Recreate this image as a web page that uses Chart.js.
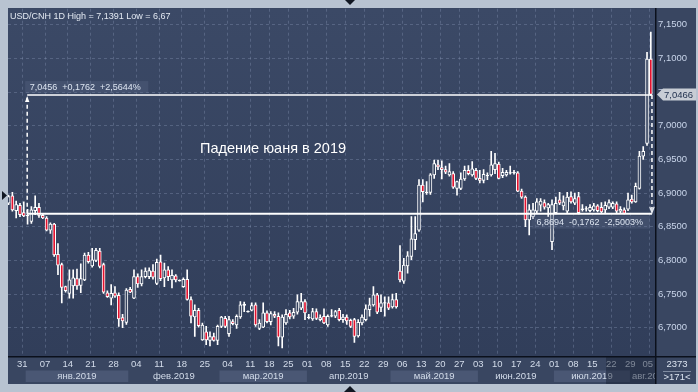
<!DOCTYPE html>
<html>
<head>
<meta charset="utf-8">
<script src="https://cdn.jsdelivr.net/npm/chart.js@4.4.1/dist/chart.umd.min.js"></script>
<style>
html,body{margin:0;padding:0;background:#b8c3d1;}
canvas{display:block;}
</style>
</head>
<body>
<canvas id="chart" width="698" height="392"></canvas>
<script>
// USD/CNH daily candles, late Dec 2018 - 06 Aug 2019
const opens=[6.885,6.896,6.874,6.882,6.871,6.867,6.858,6.874,6.879,6.867,
6.863,6.845,6.854,6.809,6.794,6.761,6.751,6.762,6.773,6.763,
6.771,6.808,6.792,6.800,6.814,6.794,6.752,6.744,6.752,6.748,
6.715,6.708,6.757,6.744,6.776,6.765,6.776,6.776,6.784,6.766,
6.798,6.774,6.786,6.771,6.777,6.7705,6.761,6.772,6.742,6.716,
6.726,6.682,6.694,6.681,6.687,6.681,6.702,6.714,6.691,6.709,
6.704,6.716,6.733,6.7245,6.726,6.734,6.699,6.701,6.722,6.709,
6.720,6.717,6.686,6.707,6.722,6.717,6.723,6.729,6.739,6.716,
6.713,6.724,6.712,6.717,6.704,6.718,6.717,6.726,6.712,6.716,
6.711,6.712,6.688,6.707,6.712,6.727,6.734,6.749,6.730,6.7365,
6.737,6.731,6.742,6.784,6.769,6.792,6.806,6.831,6.845,6.912,
6.9015,6.901,6.927,6.942,6.938,6.935,6.927,6.929,6.907,6.907,
6.921,6.934,6.927,6.934,6.922,6.919,6.9255,6.927,6.935,6.943,
6.926,6.927,6.9295,6.930,6.930,6.903,6.894,6.860,6.865,6.873,
6.882,6.886,6.878,6.828,6.871,6.890,6.881,6.873,6.895,6.885,
6.895,6.8755,6.876,6.874,6.875,6.881,6.879,6.875,6.879,6.879,
6.884,6.873,6.875,6.876,6.891,6.887,6.907,6.955,6.974,7.099];
const highs=[6.897,6.901,6.888,6.885,6.887,6.876,6.880,6.896,6.885,6.869,
6.865,6.856,6.855,6.825,6.796,6.762,6.786,6.786,6.787,6.795,
6.811,6.812,6.818,6.818,6.818,6.796,6.755,6.764,6.761,6.752,
6.720,6.758,6.760,6.786,6.780,6.786,6.789,6.789,6.794,6.802,
6.808,6.796,6.791,6.786,6.779,6.771,6.774,6.786,6.746,6.734,
6.729,6.707,6.702,6.694,6.692,6.704,6.717,6.717,6.717,6.712,
6.719,6.739,6.738,6.725,6.737,6.737,6.712,6.737,6.725,6.724,
6.724,6.722,6.719,6.727,6.726,6.729,6.749,6.751,6.742,6.720,
6.729,6.728,6.719,6.728,6.719,6.727,6.726,6.729,6.720,6.719,
6.713,6.714,6.712,6.719,6.734,6.744,6.761,6.751,6.749,6.746,
6.746,6.750,6.751,6.822,6.803,6.813,6.865,6.865,6.920,6.920,
6.917,6.929,6.949,6.949,6.948,6.940,6.944,6.932,6.918,6.930,
6.940,6.941,6.947,6.937,6.934,6.935,6.930,6.962,6.959,6.946,
6.937,6.934,6.940,6.934,6.932,6.906,6.896,6.883,6.885,6.892,
6.892,6.890,6.885,6.890,6.894,6.901,6.896,6.901,6.902,6.900,
6.901,6.883,6.880,6.883,6.885,6.883,6.886,6.887,6.890,6.887,
6.887,6.880,6.878,6.900,6.897,6.915,6.962,6.969,7.109,7.1391];
const lows=[6.883,6.873,6.863,6.865,6.865,6.854,6.855,6.868,6.864,6.862,
6.844,6.840,6.806,6.779,6.737,6.753,6.744,6.744,6.757,6.752,
6.770,6.796,6.790,6.798,6.789,6.751,6.745,6.734,6.745,6.702,
6.700,6.705,6.752,6.743,6.760,6.762,6.774,6.773,6.772,6.764,
6.770,6.761,6.770,6.759,6.768,6.769,6.760,6.741,6.707,6.687,
6.701,6.681,6.675,6.673,6.680,6.675,6.700,6.700,6.687,6.704,
6.699,6.714,6.724,6.723,6.725,6.702,6.697,6.700,6.707,6.704,
6.715,6.673,6.670,6.705,6.713,6.714,6.720,6.727,6.712,6.713,
6.711,6.712,6.710,6.706,6.702,6.716,6.715,6.710,6.708,6.705,
6.700,6.678,6.686,6.704,6.710,6.717,6.732,6.721,6.724,6.717,
6.727,6.729,6.729,6.768,6.766,6.781,6.801,6.816,6.843,6.887,
6.898,6.898,6.922,6.935,6.921,6.929,6.925,6.907,6.897,6.905,
6.919,6.927,6.925,6.920,6.915,6.915,6.920,6.925,6.929,6.921,
6.923,6.925,6.928,6.928,6.902,6.892,6.850,6.838,6.862,6.871,
6.873,6.876,6.865,6.816,6.869,6.883,6.875,6.871,6.885,6.883,
6.869,6.873,6.873,6.872,6.873,6.872,6.870,6.871,6.877,6.877,
6.871,6.870,6.869,6.874,6.885,6.886,6.906,6.950,6.971,7.045];
const closes=[6.895,6.875,6.883,6.868,6.866,6.866,6.875,6.879,6.867,6.863,
6.845,6.854,6.808,6.793,6.760,6.755,6.771,6.774,6.762,6.773,
6.808,6.798,6.801,6.815,6.791,6.753,6.746,6.751,6.747,6.713,
6.710,6.756,6.753,6.776,6.765,6.776,6.784,6.785,6.775,6.797,
6.773,6.786,6.776,6.778,6.771,6.7695,6.772,6.742,6.717,6.726,
6.703,6.704,6.682,6.687,6.681,6.702,6.716,6.702,6.712,6.706,
6.717,6.734,6.735,6.7235,6.733,6.704,6.707,6.722,6.709,6.721,
6.717,6.686,6.716,6.720,6.716,6.723,6.739,6.739,6.722,6.715,
6.724,6.714,6.715,6.707,6.717,6.717,6.724,6.712,6.716,6.710,
6.702,6.687,6.708,6.716,6.728,6.734,6.749,6.723,6.737,6.7375,
6.729,6.742,6.731,6.771,6.793,6.807,6.832,6.840,6.912,6.902,
6.9005,6.927,6.944,6.939,6.935,6.931,6.932,6.909,6.917,6.921,
6.934,6.929,6.936,6.922,6.919,6.928,6.9265,6.942,6.944,6.922,
6.931,6.931,6.9305,6.931,6.903,6.894,6.860,6.875,6.875,6.887,
6.888,6.879,6.883,6.883,6.885,6.885,6.887,6.894,6.887,6.892,
6.871,6.8765,6.877,6.879,6.881,6.874,6.872,6.882,6.886,6.885,
6.873,6.876,6.870,6.890,6.887,6.910,6.955,6.962,7.099,7.0466];

// first bar of each week (Monday) and its day number
const weekIdx=[3,9,15,21,27,33,39,45,51,57,63,68,73,78,83,88,93,98,103,108,113,118,123,128,133,138,143,148,153,158,163,168];
const weekText=['31','07','14','21','28','04','11','18','25','04','11','18','25','01','08','15','22','29','06','13','20','27','03','10','17','24','01','08','15','22','29','05'];
const monthStart=[4.5,31.5,55.5,78.5,100.5,123.5,143.5,163.5];
const monthText=['янв.2019','фев.2019','мар.2019','апр.2019','май.2019','июн.2019','июл.2019','авг.2019'];
const yTicks=[6.70,6.75,6.80,6.85,6.90,6.95,7.00,7.05,7.10,7.15];

const lastPrice=7.0466;
const measureFrom={idx:4.9,price:6.8694};
const measureTo={idx:169.3,price:7.0456};
const topText='7,0456  +0,1762  +2,5644%';
const bottomText='6,8694  -0,1762  -2,5003%';
const headerText='USD/CNH 1D High = 7,1391 Low = 6,67';
const titleText='Падение юаня в 2019';

const RED='#e3122f';
const PLOT_BG='#35435f';
const FONT='"Liberation Sans", Arial, sans-serif';
const labelShift=0.6;

const wickData=opens.map((o,i)=>({x:i,y:[lows[i],highs[i]]}));
const bodyData=opens.map((o,i)=>({x:i,y:[Math.min(o,closes[i]),Math.max(o,closes[i])]}));
const bodyColors=opens.map((o,i)=>{
    if(Math.abs(closes[i]-o)<0.0025) return '#ffffff';
    return closes[i]<o?RED:PLOT_BG;
});

function hLine(a,b,p){return [{x:a,y:p},{x:b,y:p}];}

const framePlugin={
    id:'frame',
    beforeDraw(chart){
        const c=chart.ctx, a=chart.chartArea, xs=chart.scales.x;
        c.save();
        c.fillStyle='#b8c3d1';
        c.fillRect(0,0,chart.width,chart.height);
        c.fillStyle='#394661';
        c.fillRect(8,8,688,376);
        let g=c.createLinearGradient(0,a.top,0,a.bottom);
        g.addColorStop(0,'#3b4966');
        g.addColorStop(1,'#313e5a');
        c.fillStyle=g;
        c.fillRect(a.left,a.top,a.right-a.left,a.bottom-a.top);
        // month bands
        c.beginPath();c.rect(a.left,a.bottom,a.right-a.left,30);c.clip();
        for(let k=0;k<monthStart.length;k++){
            let s=xs.getPixelForValue(monthStart[k]);
            let e=k+1<monthStart.length?xs.getPixelForValue(monthStart[k+1]):a.right;
            if(k%2===0){
                c.fillStyle='#4a5774';
                c.fillRect(s,370.5,e-s,11.5);
            }
        }
        c.restore();
    },
    afterDraw(chart){
        const c=chart.ctx, a=chart.chartArea, xs=chart.scales.x, ys=chart.scales.y;
        c.save();
        // week labels
        c.font='9.5px '+FONT;
        c.fillStyle='#d3dcea';
        c.textBaseline='middle';
        c.textAlign='center';
        weekIdx.forEach((v,i)=>{
            let w=c.measureText(weekText[i]).width;
            let px=xs.getPixelForValue(v+labelShift);
            if(px+w/2>a.right-2) px=a.right-2-w/2;
            c.fillText(weekText[i],px,364.5);
        });
        // month labels
        c.save();
        c.beginPath();c.rect(a.left,a.bottom,a.right-a.left,30);c.clip();
        c.textAlign='left';
        for(let k=0;k<monthStart.length;k++){
            let s=xs.getPixelForValue(monthStart[k]);
            let e=k+1<monthStart.length?xs.getPixelForValue(monthStart[k+1]):a.right;
            let w=c.measureText(monthText[k]).width;
            let tx=Math.max(s+2,(s+Math.min(e,a.right))/2-w/2);
            c.fillText(monthText[k],tx,376.5);
        }
        c.restore();
        // shaded end of the time axis
        c.fillStyle='rgba(22,30,48,0.45)';
        c.fillRect(606,a.bottom,a.right-606,28);
        // separators
        c.fillStyle='#0b101c';
        c.fillRect(8,a.bottom,688,1.5);
        c.fillRect(a.right,8,1.5,376);
        // bar counter box
        c.fillStyle='#dbe3ef';
        c.textAlign='center';
        c.fillText('2373',677,364.5);
        c.fillText('>171<',677,377);
        c.fillStyle='rgba(200,210,225,0.5)';
        c.fillRect(663,371,28,1);
        // last price tag
        let py=ys.getPixelForValue(lastPrice);
        c.fillStyle='#c8cdd5';
        c.beginPath();
        c.moveTo(a.right+2,py);
        c.lineTo(a.right+8,py-6);
        c.lineTo(696,py-6);
        c.lineTo(696,py+6);
        c.lineTo(a.right+8,py+6);
        c.closePath();c.fill();
        c.fillStyle='#22324f';
        c.textAlign='left';
        c.fillText(lastPrice.toFixed(4).replace('.',','),a.right+9,py+0.5);
        // header and title
        c.font='9px '+FONT;
        c.fillStyle='#e3e9f2';
        c.textBaseline='alphabetic';
        c.fillText(headerText,10,18.5);
        c.font='14.5px '+FONT;
        c.fillStyle='#ffffff';
        c.fillText(titleText,200,153);
        // measurement labels
        c.font='9px '+FONT;
        c.textBaseline='middle';
        let x0=xs.getPixelForValue(measureFrom.idx), x1=xs.getPixelForValue(measureTo.idx);
        let y0=ys.getPixelForValue(measureFrom.price), y1=ys.getPixelForValue(measureTo.price);
        let w=c.measureText(topText).width;
        c.fillStyle='rgba(95,110,140,0.3)';
        c.fillRect(x0-2,y1-14,w+12,12);
        c.fillStyle='#dde5f1';
        c.fillText(topText,x0+2.5,y1-7.5);
        w=c.measureText(bottomText).width;
        c.fillStyle='rgba(95,110,140,0.3)';
        c.fillRect(x1-w-14,y0+2,w+12,13);
        c.fillStyle='#dde5f1';
        c.fillText(bottomText,x1-w-9,y0+9);
        // arrow heads
        c.fillStyle='#ffffff';
        c.beginPath();
        c.moveTo(x0,y1+1);c.lineTo(x0-2.2,y1+7);c.lineTo(x0+2.2,y1+7);
        c.closePath();c.fill();
        c.strokeStyle='#e6ebf2';c.lineWidth=1.2;
        c.beginPath();
        c.moveTo(x1-2.2,y0-7);c.lineTo(x1,y0-1);c.lineTo(x1+2.2,y0-7);
        c.stroke();
        // frame markers
        c.fillStyle='#111722';
        c.beginPath();c.moveTo(2,191);c.lineTo(7,195.5);c.lineTo(2,200);c.closePath();c.fill();
        c.beginPath();c.moveTo(345,0);c.lineTo(355,0);c.lineTo(350,5);c.closePath();c.fill();
        c.beginPath();c.moveTo(344,392);c.lineTo(356,392);c.lineTo(350,386);c.closePath();c.fill();
        c.restore();
    }
};

const ctx=document.getElementById('chart');
new Chart(ctx,{
    type:'bar',
    data:{
        datasets:[
            {type:'line',data:hLine(measureFrom.idx,measureTo.idx,measureFrom.price),borderColor:'#ffffff',borderWidth:2,pointRadius:0,order:0},
            {type:'line',data:hLine(measureFrom.idx,measureTo.idx,measureTo.price),borderColor:'#ffffff',borderWidth:1.5,pointRadius:0,order:0},
            {type:'line',data:[{x:measureFrom.idx,y:measureFrom.price},{x:measureFrom.idx,y:measureTo.price}],borderColor:'#ffffff',borderWidth:1.5,borderDash:[4,3],pointRadius:0,order:0},
            {type:'line',data:[{x:measureTo.idx,y:measureTo.price},{x:measureTo.idx,y:measureFrom.price}],borderColor:'#ffffff',borderWidth:1.5,borderDash:[4,3],pointRadius:0,order:0},
            {label:'body',data:bodyData,backgroundColor:bodyColors,borderColor:'#ffffff',borderWidth:1,borderSkipped:false,barThickness:3,grouped:false,order:1},
            {label:'wick',data:wickData,backgroundColor:'#ffffff',borderWidth:0,barThickness:1,grouped:false,order:2}
        ]
    },
    options:{
        responsive:false,
        animation:false,
        events:[],
        layout:{padding:{left:8,top:8,right:2,bottom:8}},
        plugins:{legend:{display:false},tooltip:{enabled:false}},
        scales:{
            x:{
                type:'linear',
                min:-0.15,
                max:170.1,
                offset:false,
                grid:{offset:false,color:'rgba(140,155,185,0.35)',lineWidth:1,drawTicks:false},
                border:{display:false,dash:[3,3]},
                ticks:{display:false},
                afterBuildTicks:(s)=>{s.ticks=weekIdx.map(v=>({value:v+labelShift}));},
                afterFit:(s)=>{s.height=28;}
            },
            y:{
                position:'right',
                min:6.658,
                max:7.174,
                grid:{color:'rgba(140,155,185,0.35)',lineWidth:1,drawTicks:false},
                border:{display:false,dash:[3,3]},
                ticks:{
                    color:'#c9d5ea',
                    font:{size:9.5,family:FONT},
                    padding:3,
                    callback:(v)=>v.toFixed(4).replace('.',',')
                },
                afterBuildTicks:(s)=>{s.ticks=yTicks.map(v=>({value:v}));},
                afterFit:(s)=>{s.width=41;}
            }
        }
    },
    plugins:[framePlugin]
});
</script>
</body>
</html>
